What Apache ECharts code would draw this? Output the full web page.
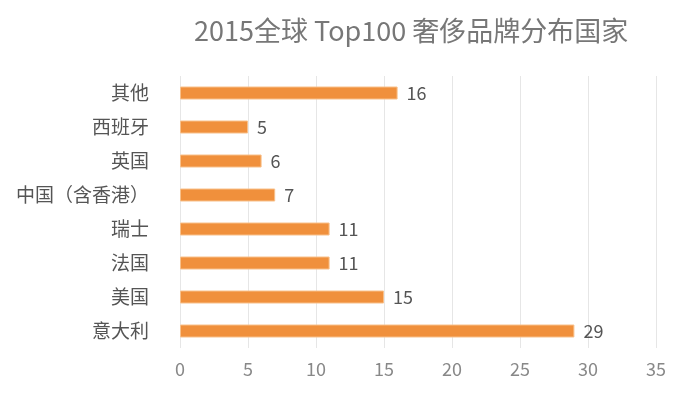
<!DOCTYPE html>
<html>
<head>
<meta charset="utf-8">
<script src="https://cdn.jsdelivr.net/npm/echarts@6/dist/echarts.min.js"></script>
<style>
  html, body { margin: 0; padding: 0; background: #fff; }
  #main { width: 695px; height: 400px; }
</style>
</head>
<body>
<div id="main"></div>
<script>
// 数据
var countries = ["意大利", "美国", "法国", "瑞士", "中国（含香港）", "英国", "西班牙", "其他"];
var brandCounts = [29, 15, 11, 11, 7, 6, 5, 16];
var xTicks = [0, 5, 10, 15, 20, 25, 30, 35];

var myChart = echarts.init(document.getElementById("main"));
var option = {
  backgroundColor: "#fff",
  title: {
    text: "2015全球 Top100 奢侈品牌分布国家",
    left: 189,
    top: 12,
    textStyle: {
      color: "#777",
      fontSize: 27,
      fontWeight: "normal",
      fontFamily: "Noto Sans CJK SC"
    }
  },
  grid: {
    left: 180,
    right: 39,
    top: 76,
    bottom: 52
  },
  xAxis: {
    type: "value",
    min: xTicks[0],
    max: xTicks[xTicks.length - 1],
    interval: 5,
    axisLine: { show: false },
    axisTick: { show: false },
    splitLine: { lineStyle: { color: "#e6e6e6" } },
    axisLabel: {
      color: "#888",
      fontSize: 18,
      margin: 12,
      fontFamily: "Noto Sans CJK SC"
    }
  },
  yAxis: {
    type: "category",
    data: countries,
    axisLine: { show: false },
    axisTick: { show: false },
    axisLabel: {
      color: "#555",
      fontSize: 19,
      margin: 31,
      fontFamily: "Noto Sans CJK SC"
    }
  },
  series: [
    {
      type: "bar",
      data: brandCounts,
      barWidth: 13,
      itemStyle: {
        color: "#f0903c",
        borderColor: "#f8c08a",
        borderWidth: 1
      },
      label: {
        show: true,
        position: "right",
        distance: 9,
        color: "#555",
        fontSize: 18,
        fontFamily: "Noto Sans CJK SC"
      }
    }
  ]
};
myChart.setOption(option);
</script>
</body>
</html>
